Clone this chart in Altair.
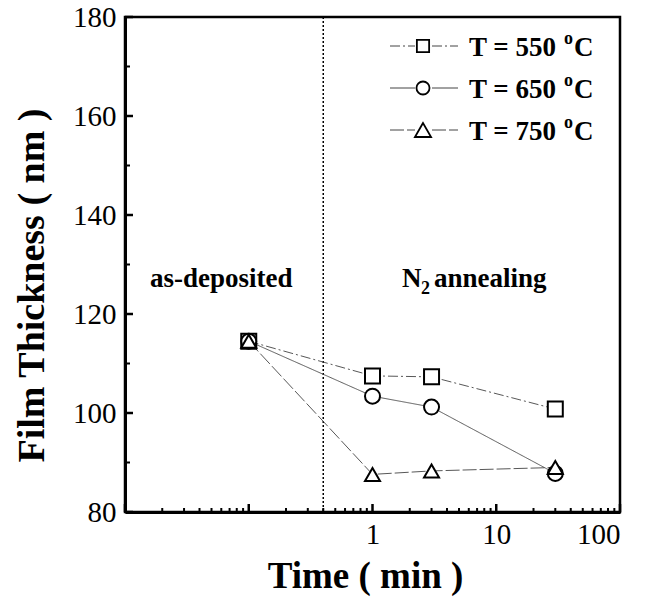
import altair as alt
import pandas as pd

# Film thickness (nm) vs. annealing time (min); the first point is the as-deposited film
times = [0.1, 1, 3, 30]
thick_550 = [114.5, 107.5, 107.3, 100.8]
thick_650 = [114.5, 103.4, 101.2, 87.8]
thick_750 = [114.5, 87.6, 88.3, 89.0]
temps = ["550", "650", "750"]

x_tick_labels = [1, 10, 100]
x_major_ticks = [0.01, 0.1, 1, 10, 100]
x_minor_ticks = [m * 10.0 ** k for k in range(-2, 2) for m in range(2, 10)]
y_tick_labels = [80, 100, 120, 140, 160, 180]
y_minor_ticks = [90, 110, 130, 150, 170]
boundary = [0.4]

FONT = "Liberation Serif"
W, H = 495, 495
LEFT, TOP = 125, 17

series = [f"T = {t}" for t in temps]
shapes = ["square", "circle", "triangle-up"]
sizes = [225, 225, 324]
dashes = [[10, 3, 2, 3], [1, 0], [14, 3]]
LINE = "#444444"

rows = []
for name, vals in zip(series, [thick_550, thick_650, thick_750]):
    for t, v in zip(times, vals):
        rows.append({"series": name, "time": t, "thickness": v})
df = pd.DataFrame(rows)

xscale = alt.Scale(type="log", domain=[0.01, 100], nice=False)
yscale = alt.Scale(domain=[80, 180], nice=False)

xaxis = alt.Axis(
    values=x_tick_labels, format="~g", ticks=False, grid=False,
    domainColor="black", domainWidth=3,
    labelFont=FONT, labelFontSize=29, labelColor="black", labelPadding=8,
    title="Time ( min )", titleFont=FONT, titleFontSize=37, titleFontWeight="bold",
    titleColor="black", titlePadding=9, titleX=240,
)
yaxis = alt.Axis(
    values=y_tick_labels, ticks=False, grid=False,
    domainColor="black", domainWidth=3,
    labelFont=FONT, labelFontSize=29, labelColor="black", labelPadding=9,
    title="Film Thickness ( nm )", titleFont=FONT, titleFontSize=38,
    titleFontWeight="bold", titleColor="black", titleAngle=-90,
    titleBaseline="middle", titleX=-93, titleY=268,
)

X = alt.X("time:Q", scale=xscale, axis=xaxis)
Y = alt.Y("thickness:Q", scale=yscale, axis=yaxis)

lines = alt.Chart(df).mark_line(color=LINE, strokeWidth=0.9).encode(
    x=X, y=Y,
    detail="series:N",
    strokeDash=alt.StrokeDash("series:N", scale=alt.Scale(domain=series, range=dashes), legend=None),
)

points = alt.Chart(df).mark_point(
    filled=True, fill="white", stroke="black", strokeWidth=2, opacity=1
).encode(
    x=alt.X("time:Q", scale=xscale),
    y=alt.Y("thickness:Q", scale=yscale),
    shape=alt.Shape("series:N", scale=alt.Scale(domain=series, range=shapes), legend=None),
    size=alt.Size("series:N", scale=alt.Scale(domain=series, range=sizes), legend=None),
)

divider = alt.Chart(pd.DataFrame({"t": boundary})).mark_rule(
    color="black", strokeWidth=1.5, strokeDash=[2, 2]
).encode(x=alt.X("t:Q", scale=xscale), y=alt.value(0), y2=alt.value(H))

# inward tick marks on the left and bottom axes
def xticks(vals, length, width):
    return alt.Chart(pd.DataFrame({"v": vals})).mark_rule(color="black", strokeWidth=width).encode(
        x=alt.X("v:Q", scale=xscale), y=alt.value(H), y2=alt.value(H - length)
    )

def yticks(vals, length, width):
    return alt.Chart(pd.DataFrame({"v": vals})).mark_rule(color="black", strokeWidth=width).encode(
        y=alt.Y("v:Q", scale=yscale), x=alt.value(0), x2=alt.value(length)
    )

tick_layers = [
    xticks(x_major_ticks, 8, 2.5), xticks(x_minor_ticks, 4, 2),
    yticks(y_tick_labels, 8, 2.5), yticks(y_minor_ticks, 5, 2),
]

def text_at(label, x, y, size=27, weight="bold", align="left"):
    return alt.Chart(pd.DataFrame({"s": [label]})).mark_text(
        font=FONT, fontSize=size, fontWeight=weight, color="black",
        align=align, baseline="alphabetic",
    ).encode(text="s:N", x=alt.value(x - LEFT), y=alt.value(y - TOP))

annotations = [
    text_at("as-deposited", 150, 287),
    text_at("N", 402, 287),
    text_at("2", 421, 294, size=18),
    text_at("annealing", 434, 287),
]

# hand-built legend: line - marker - line, then the label with a raised "o"
legend_layers = []
row_y = [46, 88, 130]
leg_sizes = [150, 170, 260]
for i, name in enumerate(series):
    yy = row_y[i] - TOP
    seg = pd.DataFrame({"s": [name]})
    for x1, x2 in [(390, 415), (432, 458)]:
        legend_layers.append(
            alt.Chart(seg).mark_rule(color=LINE, strokeWidth=1, strokeDash=dashes[i]).encode(
                x=alt.value(x1 - LEFT), x2=alt.value(x2 - LEFT), y=alt.value(yy), y2=alt.value(yy)
            )
        )
    legend_layers.append(
        alt.Chart(seg).mark_point(
            filled=True, fill="white", stroke="black", strokeWidth=1.8, opacity=1,
            shape=shapes[i], size=leg_sizes[i],
        ).encode(x=alt.value(423 - LEFT), y=alt.value(yy))
    )
    legend_layers.append(text_at(name, 469, row_y[i] + 10, size=27))
    legend_layers.append(text_at("o", 564, row_y[i] - 2, size=18))
    legend_layers.append(text_at("C", 574, row_y[i] + 10, size=27))

chart = alt.layer(
    divider, lines, points, *tick_layers, *annotations, *legend_layers
).properties(
    width=W, height=H,
    autosize=alt.AutoSizeParams(type="none"),
    padding={"left": LEFT, "top": TOP, "right": 659 - LEFT - W, "bottom": 599 - TOP - H},
    background="white",
).configure_view(stroke="black", strokeWidth=2.5)

chart.save("out.html", embed_options={"renderer": "svg", "actions": False})
